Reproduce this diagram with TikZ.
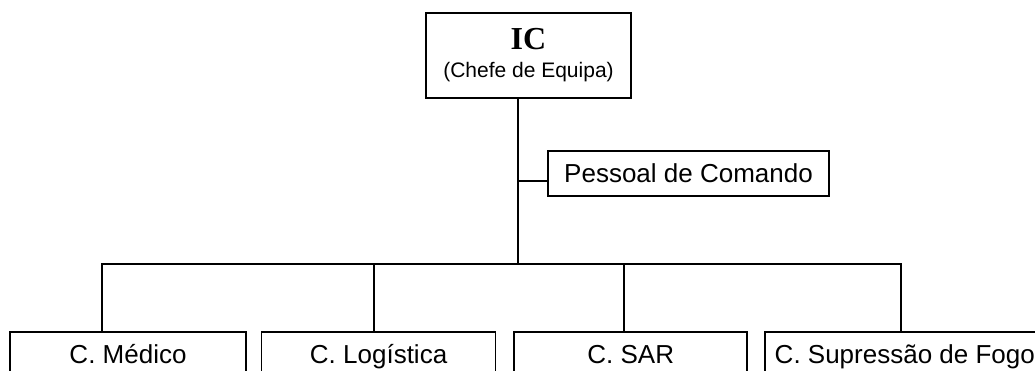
\documentclass[tikz,border=0pt]{standalone}
\usepackage{fontspec}
\setmainfont{Liberation Sans}
\newfontfamily\titlefont{Liberation Serif}
\usetikzlibrary{positioning}

\tikzset{
  box/.style={draw=black,line width=1.6pt,inner sep=0pt,minimum height=45pt,
    text height=18.6pt,text depth=0pt,font=\fontsize{26}{30}\selectfont},
  link/.style={draw=black,line width=1.6pt}
}

\begin{document}
\begin{tikzpicture}[x=1pt,y=-1pt]
\clip (0,0) rectangle (1035,371);

\node[draw=black,line width=1.6pt,inner sep=0pt,minimum width=205pt,minimum height=85pt,
  align=center,font=\fontsize{21}{28}\selectfont] (ic) at (528.5,55.5)
  {{\titlefont\bfseries\fontsize{32}{28}\selectfont IC}\\(Chefe de Equipa)};

\coordinate (pc) at (518,181);
\node[box,minimum width=281pt] (pessoal) at (688.5,173.5){Pessoal de Comando};

\node[box,minimum width=236pt] (medico) at (128,354.5){C. Médico};
\node[box,minimum width=234pt,right=14pt of medico] (logistica){C. Logística};
\node[box,minimum width=233pt,right=17pt of logistica] (sar){C. SAR};
\node[box,minimum width=280pt,right=16pt of sar] (fogo){C. Supressão de Fogo};

\coordinate (bus) at (518,264);
\coordinate (d1) at (102,264);
\coordinate (d2) at (374,264);
\coordinate (d3) at (624,264);
\coordinate (d4) at (901,264);

\draw[link] (ic.south -| bus) -- (bus);
\draw[link] (pc) -- (pessoal.west |- pc);
\draw[link] (medico.north -| d1) -- (d1) -- (d4) -- (fogo.north -| d4);
\draw[link] (d2) -- (logistica.north -| d2);
\draw[link] (d3) -- (sar.north -| d3);
\end{tikzpicture}
\end{document}
